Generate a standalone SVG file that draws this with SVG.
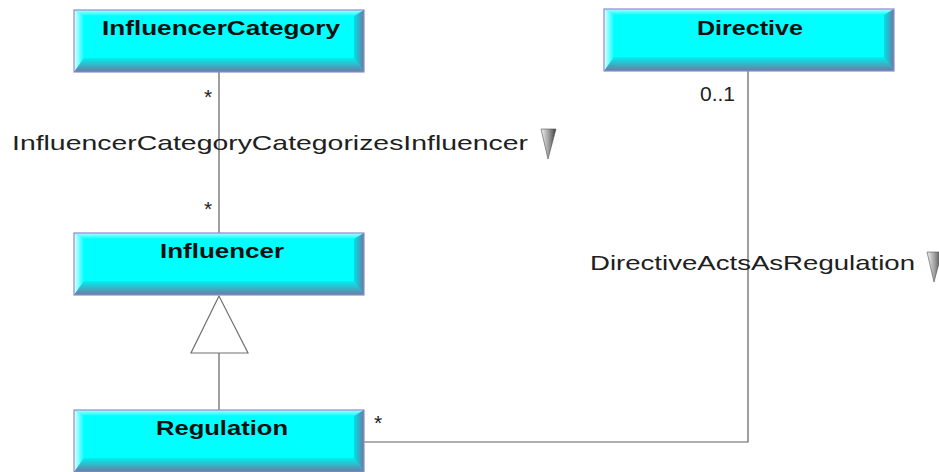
<svg xmlns="http://www.w3.org/2000/svg" width="939" height="472" viewBox="0 0 939 472">
<defs>
<linearGradient id="gLeft" x1="0" y1="0" x2="1" y2="0"><stop offset="0" stop-color="#e8ffff"/><stop offset="1" stop-color="#00ffff"/></linearGradient>
<linearGradient id="gTop" x1="0" y1="0" x2="0" y2="1"><stop offset="0" stop-color="#b0ffff"/><stop offset="1" stop-color="#00ffff"/></linearGradient>
<linearGradient id="gBottom" x1="0" y1="0" x2="0" y2="1"><stop offset="0" stop-color="#00f0f0"/><stop offset="1" stop-color="#6c7aa0"/></linearGradient>
<linearGradient id="gRight" x1="0" y1="0" x2="1" y2="0"><stop offset="0" stop-color="#00e0e8"/><stop offset="1" stop-color="#6c7aa0"/></linearGradient>
<linearGradient id="gTri" x1="0" y1="0" x2="1" y2="0"><stop offset="0" stop-color="#f0f0f0"/><stop offset="0.5" stop-color="#a0a0a0"/><stop offset="1" stop-color="#404040"/></linearGradient>
<g id="box">
<rect x="0" y="0" width="290" height="62" fill="#00ffff"/>
<polygon points="0,0 290,0 280,6 10,6" fill="url(#gTop)"/>
<polygon points="0,0 10,6 10,48 0,62" fill="url(#gLeft)"/>
<polygon points="0,62 10,48 280,48 290,62" fill="url(#gBottom)"/>
<polygon points="290,0 290,62 280,48 280,6" fill="url(#gRight)"/>
<rect x="0" y="0" width="290" height="62" fill="none" stroke="#8c8cd0" stroke-width="1.2"/>
</g>
</defs>
<style>
.name{font-family:"Liberation Sans",Arial,sans-serif;font-weight:bold;font-size:20px;fill:#101010;text-anchor:middle}
.lbl{font-family:"Liberation Sans",Arial,sans-serif;font-size:21px;fill:#202020}
.mult{font-family:"Liberation Sans",Arial,sans-serif;font-size:21px;fill:#202020}
.conn{stroke:#606060;stroke-width:1.2;fill:none}
</style>
<g id="connectors">
<line class="conn" x1="219" y1="72" x2="219" y2="233"/>
<polyline class="conn" points="748,71 748,442 364,442"/>
<line class="conn" x1="219" y1="411" x2="219" y2="353"/>
<polygon points="219,296 191,353 248,353" fill="#ffffff" stroke="#707070" stroke-width="1.2"/>
<text class="mult" x="208" y="104" text-anchor="middle">*</text>
<text class="mult" x="208" y="216" text-anchor="middle">*</text>
<text class="mult" x="700" y="101">0..1</text>
<text class="mult" x="378" y="430" text-anchor="middle">*</text>
<text class="lbl" x="12" y="150" textLength="516" lengthAdjust="spacingAndGlyphs">InfluencerCategoryCategorizesInfluencer</text>
<polygon points="541,129 556,129 548,159" fill="url(#gTri)" stroke="#505050" stroke-width="0.6"/>
<text class="lbl" x="590" y="270" textLength="325" lengthAdjust="spacingAndGlyphs">DirectiveActsAsRegulation</text>
<polygon points="927,252 942,252 934,282" fill="url(#gTri)" stroke="#505050" stroke-width="0.6"/>
</g>
<g id="InfluencerCategory">
<use href="#box" x="74" y="10"/>
<text class="name" x="221" y="35" textLength="238" lengthAdjust="spacingAndGlyphs">InfluencerCategory</text>
</g>
<g id="Directive">
<use href="#box" x="604" y="9"/>
<text class="name" x="750" y="35" textLength="106" lengthAdjust="spacingAndGlyphs">Directive</text>
</g>
<g id="Influencer">
<use href="#box" x="74" y="233"/>
<text class="name" x="222" y="258" textLength="124" lengthAdjust="spacingAndGlyphs">Influencer</text>
</g>
<g id="Regulation">
<use href="#box" x="74" y="410"/>
<text class="name" x="222" y="435" textLength="132" lengthAdjust="spacingAndGlyphs">Regulation</text>
</g>
</svg>
